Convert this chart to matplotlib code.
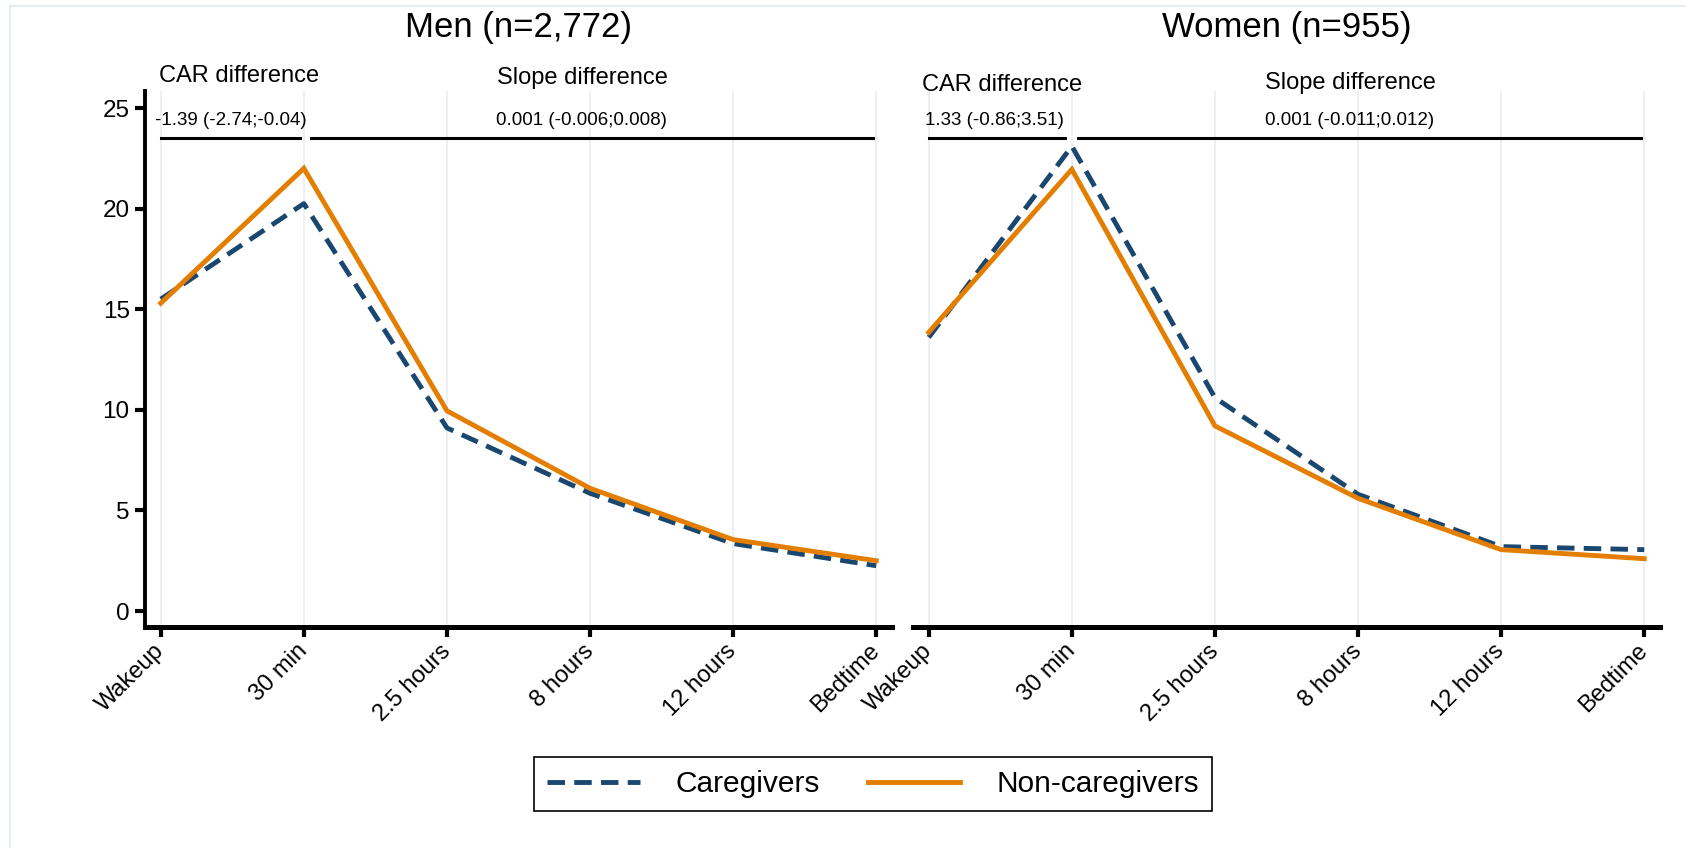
import matplotlib
matplotlib.use("Agg")
import matplotlib.pyplot as plt
from matplotlib.lines import Line2D

plt.rcParams['font.family'] = ['Liberation Sans', 'DejaVu Sans']

# ---- data ----
timepoints = ["Wakeup", "30 min", "2.5 hours", "8 hours", "12 hours", "Bedtime"]
yticks = [0, 5, 10, 15, 20, 25]

men_caregivers = [15.5, 20.25, 9.1, 5.85, 3.35, 2.25]
men_noncaregivers = [15.3, 22.0, 9.95, 6.1, 3.55, 2.5]
women_caregivers = [13.6, 23.1, 10.6, 5.8, 3.2, 3.05]
women_noncaregivers = [13.85, 21.95, 9.2, 5.6, 3.05, 2.6]

panel_titles = ["Men (n=2,772)", "Women (n=955)"]
car_labels = ["-1.39 (-2.74;-0.04)", "1.33 (-0.86;3.51)"]
slope_labels = ["0.001 (-0.006;0.008)", "0.001 (-0.011;0.012)"]
series_names = ["Caregivers", "Non-caregivers"]

BLUE = "#1a476f"
ORANGE = "#e37e00"
GRID = "#e6eef1"

fig = plt.figure(figsize=(16.86, 8.48), dpi=100)

# faint outer graph-region frame
fig.add_artist(Line2D([10/1686, 10/1686], [0, 1 - 6/848], transform=fig.transFigure,
                      color=GRID, lw=1.6))
fig.add_artist(Line2D([10/1686, 1], [1 - 6/848, 1 - 6/848], transform=fig.transFigure,
                      color=GRID, lw=1.6))

ax_bottom = 1 - 627/848
ax_height = (627 - 91)/848
ax_w = 747/1686
axL = fig.add_axes([145/1686, ax_bottom, ax_w, ax_height])
axR = fig.add_axes([913/1686, ax_bottom, ax_w, ax_height], sharey=axL)

x = list(range(len(timepoints)))
data = [(men_caregivers, men_noncaregivers), (women_caregivers, women_noncaregivers)]

car_y = [26.6, 26.15]
slope_y = [26.5, 26.25]
car_seg = [(0.0, 0.97), (0.0, 0.95)]
slope_seg = [(1.05, 4.98), (1.04, 4.98)]
car_x = [0.49, 0.46]
car_title_x = [0.55, 0.51]

for i, ax in enumerate([axL, axR]):
    cg, ncg = data[i]
    for xi in x:
        ax.axvline(xi, color=GRID, lw=1.2, zorder=0)
    ax.plot(x, cg, color=BLUE, lw=3.5, dashes=(3.6, 1.9), label=series_names[0], zorder=3)
    ax.plot(x, ncg, color=ORANGE, lw=3.5, label=series_names[1], zorder=4,
            solid_joinstyle='miter')
    ax.set_xlim(-0.11, 5.11)
    ax.set_ylim(-0.795, 25.845)
    ax.set_xticks(x)
    ax.set_xticklabels(timepoints, rotation=45, ha='right', va='center',
                       rotation_mode='anchor', fontsize=17)
    ax.tick_params(axis='x', length=7, width=3, pad=8, color='black')
    for s in ['top', 'right']:
        ax.spines[s].set_visible(False)
    ax.spines['bottom'].set_linewidth(3.6)
    ax.spines['left'].set_linewidth(2.8)

    # annotations
    ax.plot(list(car_seg[i]), [23.5, 23.5], color='black', lw=2.2, clip_on=False, zorder=5)
    ax.plot(list(slope_seg[i]), [23.5, 23.5], color='black', lw=2.2, clip_on=False, zorder=5)
    ax.text(car_x[i], 24.4, car_labels[i], ha='center', va='center', fontsize=13.5)
    ax.text(2.94, 24.4, slope_labels[i], ha='center', va='center', fontsize=13.5)
    ax.text(car_title_x[i], car_y[i], "CAR difference", ha='center', va='center',
            fontsize=17, clip_on=False)
    ax.text(2.95, slope_y[i], "Slope difference", ha='center', va='center',
            fontsize=17, clip_on=False)

    pos = ax.get_position()
    fig.text(pos.x0 + pos.width/2, 1 - 28/848, panel_titles[i], ha='center', va='center',
             fontsize=25)

axL.set_yticks(yticks)
axL.tick_params(axis='y', length=7, width=3, pad=4, labelsize=17.5)
axR.spines['left'].set_visible(False)
axR.tick_params(axis='y', left=False, labelleft=False)

handles, labels = axL.get_legend_handles_labels()
leg = fig.legend(handles[:2], labels[:2], loc='center', bbox_to_anchor=(873/1686, 1 - 784/848),
                 ncol=2, fontsize=21.5, handlelength=3.1, handletextpad=1.2,
                 columnspacing=1.6, borderpad=0.45, fancybox=False, framealpha=1,
                 edgecolor='black')
leg.get_frame().set_linewidth(1.2)

fig.savefig("out.png", dpi=100, facecolor='white')
